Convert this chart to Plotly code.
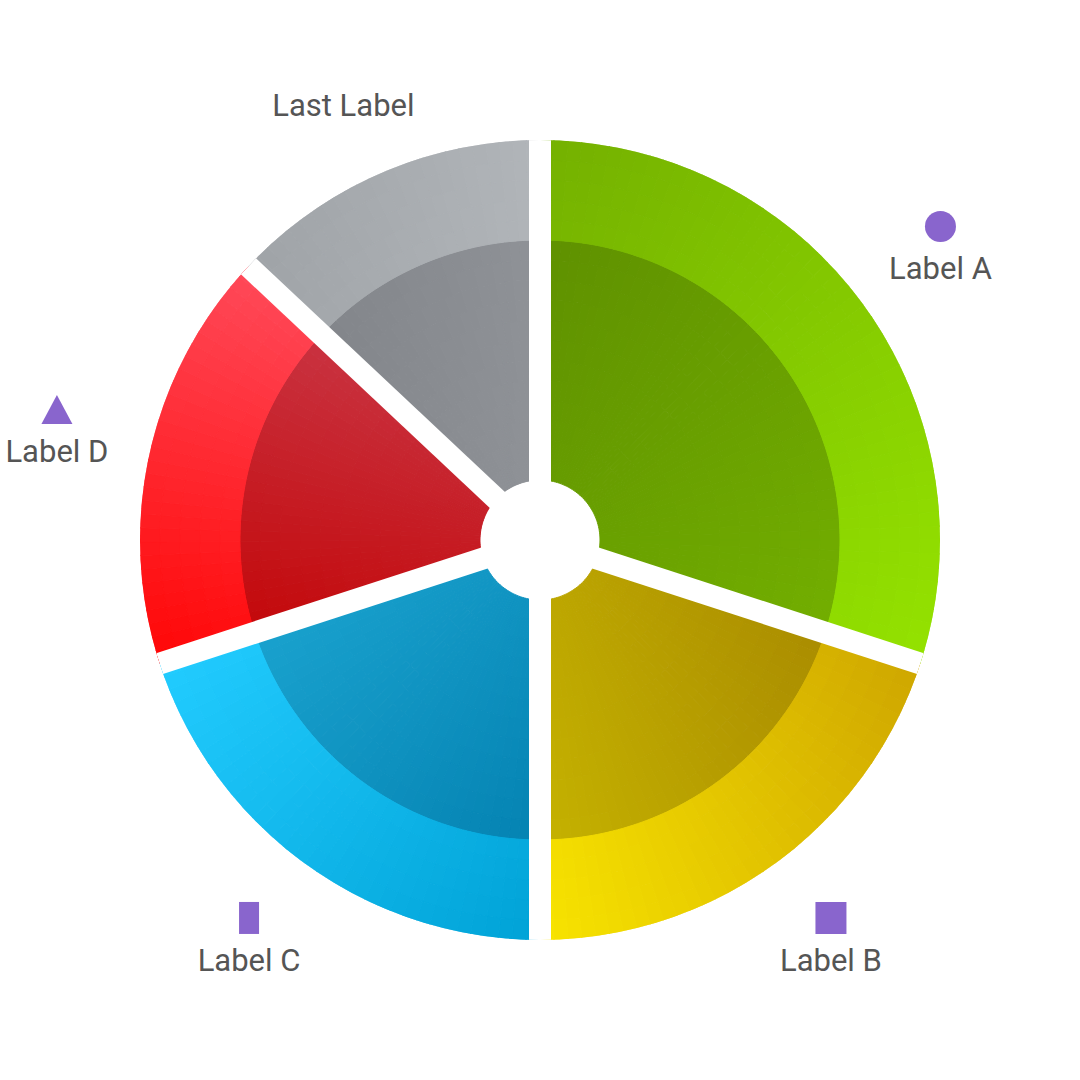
import numpy as np
import plotly.graph_objects as go

# ---- data ----
labels = ["Label A", "Label B", "Label C", "Label D", "Last Label"]
values = [30, 20, 20, 17, 13]
marker_kind = ["circle", "square", "bar", "triangle", "none"]

# gradient colours per slice (start -> end along gradient direction)
outer_start = ["#74b000", "#f8e400", "#22ccff", "#ff4a5a", "#9fa3a7"]
outer_end = ["#94e200", "#cea600", "#00a2d6", "#ff0606", "#b1b5b9"]
inner_start = ["#5c8c00", "#c8b600", "#1ca6d2", "#ca3a4a", "#7e8186"]
inner_end = ["#76b400", "#a48400", "#007cac", "#c20000", "#8f9297"]
grad_dx = [1.0, 1.0, 1.0, -0.25, 1.0]   # screen x (right)
grad_dy = [1.0, -0.4, 1.0, 1.0, 0.0]    # screen y (down)

# ---- geometry (pixels) ----
R_OUT, R_IN, R_HOLE = 400, 300, 60
GAP = 22
LABEL_R = 495
LABEL_OFF = 22.5
MARK_COLOR = "#8965cd"
TEXT_COLOR = "#555555"


def hex2rgb(h):
    h = h.lstrip("#")
    return np.array([int(h[i:i + 2], 16) for i in (0, 2, 4)], float)


def lerp(c0, c1, t):
    a, b = hex2rgb(c0), hex2rgb(c1)
    c = a + (b - a) * t
    return "rgb(%d,%d,%d)" % tuple(np.round(c).astype(int))


total = float(sum(values))
bounds = np.concatenate([[0], np.cumsum(values)]) / total * 360.0

cr, cb, ct, cw, cc = [], [], [], [], []
ANG_STEP = 2.0
RAD_STEP = 20.0
for i in range(len(values)):
    a0, a1 = bounds[i], bounds[i + 1]
    d = np.array([grad_dx[i], grad_dy[i]])
    d = d / np.linalg.norm(d)
    S, Rg = np.meshgrid(np.radians(np.linspace(a0, a1, 200)), np.linspace(R_HOLE, R_OUT, 60))
    p = Rg * np.sin(S) * d[0] + (-Rg * np.cos(S)) * d[1]
    pmin, pmax = p.min(), p.max()
    n = int(np.ceil((a1 - a0) / ANG_STEP))
    aed = np.linspace(a0, a1, n + 1)
    for rb, rt, c0, c1 in [(R_HOLE, R_IN, inner_start[i], inner_end[i]),
                           (R_IN, R_OUT, outer_start[i], outer_end[i])]:
        nr = int(np.ceil((rt - rb) / RAD_STEP))
        red = np.linspace(rb, rt, nr + 1)
        for j in range(n):
            th = 0.5 * (aed[j] + aed[j + 1])
            for k in range(nr):
                rc = 0.5 * (red[k] + red[k + 1])
                x = rc * np.sin(np.radians(th))
                y = -rc * np.cos(np.radians(th))
                t = np.clip((x * d[0] + y * d[1] - pmin) / (pmax - pmin), 0, 1)
                cr.append(red[k + 1] - red[k])
                cb.append(red[k])
                ct.append(th)
                cw.append(aed[j + 1] - aed[j])
                cc.append(lerp(c0, c1, t))

fig = go.Figure()
fig.add_trace(go.Barpolar(
    r=cr, base=cb, theta=ct, width=cw,
    marker=dict(color=cc, line=dict(color=cc, width=1)),
    hoverinfo="skip", showlegend=False,
))

# white gaps between slices
gr, gt = [], []
for b in bounds[:-1]:
    gr += [0, R_OUT, None]
    gt += [b, b, None]
fig.add_trace(go.Scatterpolar(
    r=gr, theta=gt, mode="lines",
    line=dict(color="white", width=GAP),
    hoverinfo="skip", showlegend=False,
))

# labels
mids = 0.5 * (bounds[:-1] + bounds[1:])
gx = LABEL_R * np.sin(np.radians(mids))
gy = LABEL_R * np.cos(np.radians(mids))
fig.add_trace(go.Scatter(
    x=gx, y=gy - LABEL_OFF, mode="text", text=labels,
    textposition="middle center",
    textfont=dict(family="Roboto", size=31, color=TEXT_COLOR),
    hoverinfo="skip", showlegend=False,
))

shapes = []
for i, kind in enumerate(marker_kind):
    mx, my = gx[i], gy[i] + LABEL_OFF
    if kind == "circle":
        shapes.append(dict(type="circle", x0=mx - 15.5, x1=mx + 15.5, y0=my - 15.5, y1=my + 15.5))
    elif kind == "square":
        shapes.append(dict(type="rect", x0=mx - 15.5, x1=mx + 15.5, y0=my - 16, y1=my + 16))
    elif kind == "bar":
        shapes.append(dict(type="rect", x0=mx - 10, x1=mx + 10, y0=my - 16, y1=my + 16))
    elif kind == "triangle":
        shapes.append(dict(type="path",
                           path="M %f %f L %f %f L %f %f Z" % (mx - 15.5, my - 14.5, mx + 15.5, my - 14.5, mx, my + 14.5)))
for s in shapes:
    s.update(xref="x", yref="y", fillcolor=MARK_COLOR, line=dict(width=0), layer="above")

fig.update_layout(
    width=1080, height=1080,
    margin=dict(l=0, r=0, t=0, b=0),
    paper_bgcolor="white", plot_bgcolor="rgba(0,0,0,0)",
    xaxis=dict(range=[-540, 540], visible=False, fixedrange=True),
    yaxis=dict(range=[-540, 540], visible=False, fixedrange=True),
    polar=dict(
        domain=dict(x=[(540 - R_OUT) / 1080, (540 + R_OUT) / 1080],
                    y=[(540 - R_OUT) / 1080, (540 + R_OUT) / 1080]),
        bgcolor="rgba(0,0,0,0)",
        barmode="overlay",
        angularaxis=dict(rotation=90, direction="clockwise", visible=False,
                         showgrid=False, showline=False, showticklabels=False, ticks=""),
        radialaxis=dict(range=[0, R_OUT], visible=False,
                        showgrid=False, showline=False, showticklabels=False, ticks=""),
    ),
    shapes=shapes,
    showlegend=False,
)

fig.write_html("out.html")
